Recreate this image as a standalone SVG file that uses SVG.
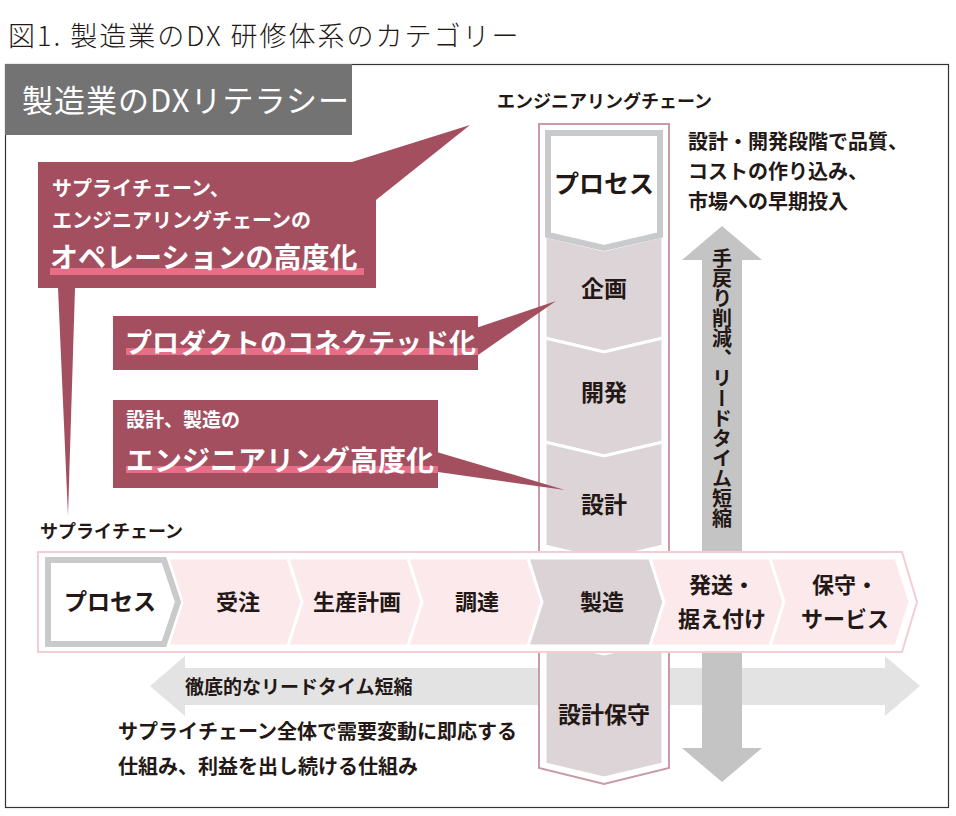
<svg xmlns="http://www.w3.org/2000/svg" width="956" height="816" viewBox="0 0 956 816">
<style>
text{font-family:"Noto Sans CJK JP","Noto Sans",sans-serif;fill:#231815}
.b{font-weight:bold}
.w{fill:#fff}
.call{fill:#a44f60}
.cell{fill:#ddd4d7;stroke:#fff;stroke-width:3}
.hcell{fill:#fbe9ec;stroke:#fff;stroke-width:3}
.proc{fill:#fff;stroke:#c9cacb;stroke-width:6}
.c{text-anchor:middle}
</style>
<rect width="956" height="816" fill="#fff"/>
<text x="8" y="46" font-size="27" letter-spacing="2" font-weight="300">図1. 製造業のDX 研修体系のカテゴリー</text>
<rect x="5.5" y="64.5" width="943" height="743" fill="none" stroke="#333" stroke-width="1.2"/>
<g id="header"><rect x="5" y="64" width="347" height="71" fill="#737373"/><text x="22" y="112" font-size="31" letter-spacing="1" class="w">製造業のDXリテラシー</text></g>

<g id="lead-arrow"><polygon points="150,686 185,656 185,668 885,668 885,656 920,686 885,716 885,705 185,705 185,716" fill="#e3e3e3"/>
<text x="185" y="694" font-size="19" class="b">徹底的なリードタイム短縮</text></g>
<text x="118" y="739" font-size="20" class="b">サプライチェーン全体で需要変動に即応する</text>
<text x="118" y="774" font-size="20" class="b">仕組み、利益を出し続ける仕組み</text>

<g id="rework-arrow"><polygon points="722,226 762,260 742,260 742,748 762,748 722,782 682,748 702,748 702,260 682,260" fill="#c4c4c4"/>
<text x="722" y="248" font-size="20" class="b" style="writing-mode:vertical-rl">手戻り削減、リードタイム短縮</text></g>
<g id="note"><text x="688" y="149" font-size="20" class="b">設計・開発段階で品質、</text>
<text x="688" y="179" font-size="20" class="b">コストの作り込み、</text>
<text x="688" y="209" font-size="20" class="b">市場への早期投入</text></g>

<text x="497" y="108" font-size="18" class="b">エンジニアリングチェーン</text>
<g id="eng-chain">
<polygon points="539,124 669,124 669,768 604,784 539,768" fill="#fff" stroke="#c99ba6" stroke-width="2"/>
<polygon class="cell" points="545,236 604,250 663,236 663,338 604,352 545,338"/>
<polygon class="cell" points="545,338 604,352 663,338 663,442 604,456 545,442"/>
<polygon class="cell" points="545,442 604,456 663,442 663,546 604,560 545,546"/>
<polygon class="cell" points="545,640 604,654 663,640 663,764 604,778 545,764"/>
<polygon class="proc" points="548,133 660,133 660,235 604,248 548,235"/>
<text x="604" y="193" font-size="25" class="b c">プロセス</text>
<text x="604" y="297" font-size="23" class="b c">企画</text>
<text x="604" y="401" font-size="23" class="b c">開発</text>
<text x="604" y="513" font-size="23" class="b c">設計</text>
<text x="604" y="723" font-size="23" class="b c">設計保守</text>
</g>

<text x="40" y="538" font-size="18" class="b">サプライチェーン</text>
<g id="supply-chain">
<polygon points="38,552 902,552 917,602 902,652 38,652" fill="#fff" stroke="#f3cdd3" stroke-width="2"/>
<polygon class="hcell" points="168,558 288,558 302,602 288,646 168,646 182,602"/>
<polygon class="hcell" points="288,558 408,558 422,602 408,646 288,646 302,602"/>
<polygon class="hcell" points="408,558 528,558 542,602 528,646 408,646 422,602"/>
<polygon points="528,558 650,558 664,602 650,646 528,646 542,602" fill="#dbd3d6" stroke="#fff" stroke-width="3"/>
<polygon class="hcell" points="650,558 770,558 784,602 770,646 650,646 664,602"/>
<polygon class="hcell" points="770,558 896,558 910,602 896,646 770,646 784,602"/>
<polygon class="proc" points="48,560 164,560 178,602 164,644 48,644"/>
<text x="110" y="610" font-size="23" class="b c">プロセス</text>
<text x="238" y="610" font-size="22" class="b c">受注</text>
<text x="357" y="610" font-size="22" class="b c">生産計画</text>
<text x="477" y="610" font-size="22" class="b c">調達</text>
<text x="602" y="610" font-size="22" class="b c">製造</text>
<text x="722" y="593" font-size="22" class="b c">発送・</text>
<text x="722" y="627" font-size="22" class="b c">据え付け</text>
<text x="845" y="593" font-size="22" class="b c">保守・</text>
<text x="845" y="627" font-size="22" class="b c">サービス</text>
</g>

<g id="callout-operation">
<polygon class="call" points="352,162 470,125 376,200"/>
<polygon class="call" points="58,288 75,288 68,516"/>
<rect class="call" x="38" y="162" width="338" height="126"/>
<rect x="50" y="268" width="314" height="7" fill="#e86e87"/>
<text x="52" y="196" font-size="20" class="w b">サプライチェーン、</text>
<text x="52" y="228" font-size="20" class="w b">エンジニアリングチェーンの</text>
<text x="50" y="268" font-size="28" class="w b">オペレーションの高度化</text>
</g>
<g id="callout-connected">
<polygon class="call" points="470,330 556,301 478,355"/>
<rect class="call" x="113" y="316" width="365" height="54"/>
<rect x="126" y="348" width="352" height="7" fill="#e86e87"/>
<text x="125" y="353" font-size="27" class="w b">プロダクトのコネクテッド化</text>
</g>
<g id="callout-engineering">
<polygon class="call" points="430,450 565,490 438,472"/>
<rect class="call" x="113" y="400" width="325" height="88"/>
<rect x="126" y="466" width="312" height="7" fill="#e86e87"/>
<text x="126" y="427" font-size="19" class="w b">設計、製造の</text>
<text x="126" y="471" font-size="28" class="w b">エンジニアリング高度化</text>
</g>
</svg>
